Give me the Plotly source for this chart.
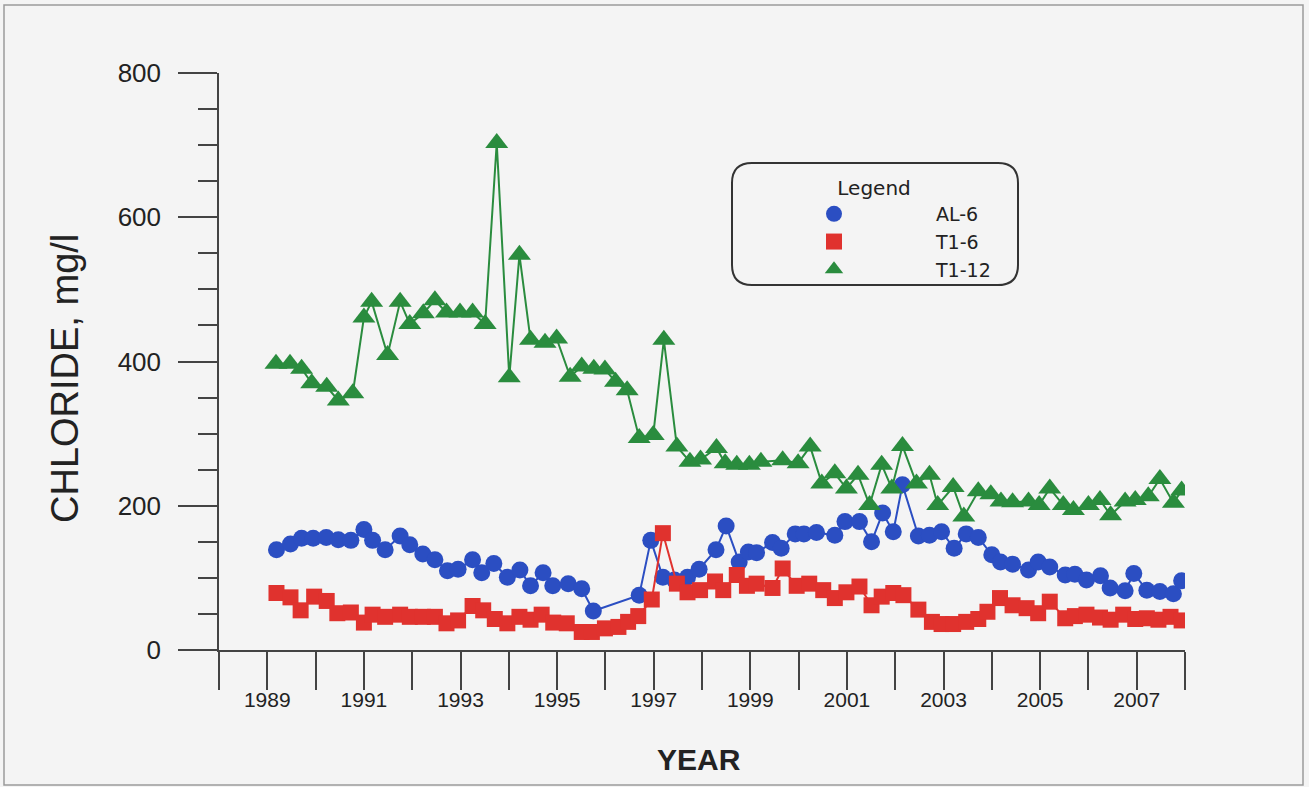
import plotly.graph_objects as go

# ---- data (decimal year, chloride mg/l) ----
al6_year = [1989.19, 1989.48, 1989.71, 1989.95, 1990.22, 1990.47, 1990.73, 1991.00, 1991.18, 1991.44,
            1991.75, 1991.95, 1992.22, 1992.47, 1992.73, 1992.95, 1993.25, 1993.44, 1993.69, 1993.97,
            1994.23, 1994.45, 1994.71, 1994.91, 1995.23, 1995.51, 1995.75, 1996.70, 1996.94, 1997.19,
            1997.43, 1997.70, 1997.94, 1998.29, 1998.50, 1998.77, 1998.96, 1999.13, 1999.46, 1999.64,
            1999.93, 2000.11, 2000.37, 2000.75, 2000.96, 2001.26, 2001.51, 2001.74, 2001.96, 2002.15,
            2002.48, 2002.71, 2002.96, 2003.22, 2003.47, 2003.72, 2004.00, 2004.18, 2004.43, 2004.76,
            2004.96, 2005.20, 2005.52, 2005.72, 2005.96, 2006.25, 2006.45, 2006.76, 2006.94, 2007.21,
            2007.48, 2007.76, 2007.93]
al6_val = [139, 147, 155, 155, 156, 153, 152, 167, 152, 139,
           158, 146, 133, 125, 110, 112, 125, 107, 120, 101,
           111, 89, 107, 89, 92, 85, 54, 76, 152, 101,
           97, 101, 112, 139, 172, 122, 136, 135, 149, 141,
           161, 161, 163, 159, 178, 178, 150, 190, 164, 229,
           158, 159, 164, 141, 161, 156, 132, 122, 119, 111,
           122, 115, 104, 105, 97, 103, 86, 82, 106, 83,
           81, 78, 96]

t16_year = [1989.19, 1989.48, 1989.69, 1989.97, 1990.23, 1990.45, 1990.73, 1991.00, 1991.18, 1991.44,
            1991.75, 1991.95, 1992.22, 1992.47, 1992.71, 1992.95, 1993.25, 1993.47, 1993.71, 1993.97,
            1994.22, 1994.45, 1994.68, 1994.92, 1995.20, 1995.51, 1995.72, 1995.99, 1996.27, 1996.47,
            1996.68, 1996.96, 1997.19, 1997.48, 1997.70, 1997.96, 1998.27, 1998.44, 1998.72, 1998.93,
            1999.13, 1999.46, 1999.67, 1999.96, 2000.22, 2000.51, 2000.75, 2000.99, 2001.26, 2001.51,
            2001.72, 2001.96, 2002.17, 2002.48, 2002.76, 2002.96, 2003.20, 2003.47, 2003.72, 2003.91,
            2004.17, 2004.43, 2004.72, 2004.96, 2005.20, 2005.52, 2005.72, 2005.96, 2006.24, 2006.46,
            2006.72, 2006.97, 2007.21, 2007.45, 2007.70, 2007.93]
t16_val = [79, 73, 55, 74, 68, 51, 52, 38, 49, 46,
           49, 46, 46, 46, 37, 41, 61, 55, 43, 37,
           46, 42, 49, 38, 37, 25, 25, 30, 32, 39,
           47, 70, 162, 92, 80, 83, 95, 83, 104, 89,
           92, 86, 113, 89, 92, 83, 72, 80, 88, 62,
           74, 79, 76, 56, 39, 36, 36, 39, 43, 53,
           72, 62, 58, 51, 67, 44, 47, 49, 45, 42,
           49, 43, 44, 42, 46, 41]

t112_year = [1989.18, 1989.47, 1989.71, 1989.92, 1990.23, 1990.47, 1990.77, 1991.00, 1991.16, 1991.49,
             1991.75, 1991.95, 1992.23, 1992.47, 1992.71, 1992.99, 1993.25, 1993.51, 1993.75, 1994.01,
             1994.22, 1994.45, 1994.75, 1994.99, 1995.27, 1995.51, 1995.76, 1995.99, 1996.21, 1996.45,
             1996.70, 1996.99, 1997.21, 1997.48, 1997.75, 1997.97, 1998.30, 1998.48, 1998.72, 1998.98,
             1999.22, 1999.67, 1999.99, 2000.24, 2000.48, 2000.75, 2000.99, 2001.23, 2001.47, 2001.72,
             2001.93, 2002.15, 2002.44, 2002.71, 2002.88, 2003.20, 2003.42, 2003.72, 2003.98, 2004.19,
             2004.43, 2004.76, 2004.98, 2005.20, 2005.48, 2005.69, 2006.00, 2006.24, 2006.46, 2006.76,
             2006.97, 2007.24, 2007.48, 2007.76, 2007.93]
t112_val = [397, 397, 390, 370, 365, 346, 356, 461, 483, 409,
            483, 452, 467, 485, 468, 468, 468, 452, 703, 378,
            548, 430, 426, 432, 379, 393, 390, 389, 372, 360,
            294, 298, 430, 282, 261, 264, 280, 259, 257, 257,
            261, 263, 259, 282, 231, 245, 224, 243, 201, 257,
            224, 283, 231, 243, 201, 226, 185, 220, 216, 206,
            205, 206, 201, 224, 201, 194, 201, 208, 187, 206,
            208, 213, 237, 204, 221]

series_names = ["AL-6", "T1-6", "T1-12"]
year_ticks = list(range(1988, 2009))
year_labels = [str(y) if y % 2 == 1 else "" for y in year_ticks]
y_ticks = [0, 200, 400, 600, 800]

# ---- styling ----
BLUE = "#2b4ec2"
RED = "#e0322e"
GREEN = "#2a8c3e"
AXIS = "#444444"
TEXT = "#222222"
BG = "#f4f4f4"

# plot area in pixels (for converting pixel positions of decorations to paper coords)
L, R, T, B = 219, 1185, 73, 650
W, H = R - L, B - T


def px(x):
    return (x - L) / W


def py(y):
    return (B - y) / H


fig = go.Figure()
styles = [
    (al6_year, al6_val, BLUE, "circle", 17),
    (t16_year, t16_val, RED, "square", 16),
    (t112_year, t112_val, GREEN, "triangle-up", 20),
]
for name, (xs, ys, col, sym, sz) in zip(series_names, styles):
    fig.add_trace(go.Scatter(x=xs, y=ys, name=name, mode="lines+markers", showlegend=False,
                             legendgroup=name,
                             line=dict(color=col, width=2),
                             marker=dict(symbol=sym, size=sz, color=col)))
# legend entries show markers only (as in the reference)
for name, (xs, ys, col, sym, sz) in zip(series_names, styles):
    fig.add_trace(go.Scatter(x=[None], y=[None], name=name, mode="markers", legendgroup=name,
                             marker=dict(symbol=sym, size=sz + 4, color=col)))

# rounded legend frame
r = 20
x0, x1, y0, y1 = px(732), px(1018), py(285), py(163)
rx, ry = r / W, r / H
path = (f"M {x0+rx},{y1} L {x1-rx},{y1} Q {x1},{y1} {x1},{y1-ry} "
        f"L {x1},{y0+ry} Q {x1},{y0} {x1-rx},{y0} "
        f"L {x0+rx},{y0} Q {x0},{y0} {x0},{y0+ry} "
        f"L {x0},{y1-ry} Q {x0},{y1} {x0+rx},{y1} Z")

shapes = [
    dict(type="path", xref="paper", yref="paper", path=path,
         line=dict(color="#333333", width=2), fillcolor="rgba(0,0,0,0)", layer="below"),
    dict(type="rect", xref="paper", yref="paper", x0=px(4), x1=px(1303), y0=py(785), y1=py(5),
         line=dict(color="#9a9a9a", width=1.5), fillcolor="rgba(0,0,0,0)", layer="below"),
]

annotations = [
    dict(text="CHLORIDE, mg/l", xref="paper", yref="paper", x=px(65), y=py(379),
         xanchor="center", yanchor="middle",
         textangle=-90, showarrow=False, font=dict(family="Liberation Sans, Arial", size=38, color=TEXT)),
    dict(text="<b>YEAR</b>", xref="paper", yref="paper", x=px(699), y=py(759),
         xanchor="center", yanchor="middle",
         showarrow=False, font=dict(family="Liberation Sans, Arial", size=30, color=TEXT)),
]

fig.update_layout(
    width=1309, height=787,
    margin=dict(l=L, r=1309 - R, t=T, b=787 - B),
    paper_bgcolor=BG, plot_bgcolor=BG,
    showlegend=True,
    legend=dict(
        x=px(732), y=py(169), xanchor="left", yanchor="top",
        bgcolor="rgba(0,0,0,0)", borderwidth=0,
        title=dict(text="&nbsp;&nbsp;&nbsp;Legend", side="top center",
                   font=dict(family="DejaVu Sans, Liberation Sans", size=20, color=TEXT)),
        font=dict(family="DejaVu Sans, Liberation Sans", size=19, color=TEXT),
        itemwidth=194, tracegroupgap=0, itemclick=False, itemdoubleclick=False,
    ),
    shapes=shapes,
    annotations=annotations,
    xaxis=dict(
        range=[1988, 2008], tickmode="array", tickvals=year_ticks, ticktext=year_labels,
        ticks="outside", ticklen=38, tickwidth=1.5, tickcolor=AXIS,
        showline=True, linecolor=AXIS, linewidth=1.5,
        showgrid=False, zeroline=False, ticklabelstandoff=-8,
        tickfont=dict(family="Liberation Sans, Arial", size=21, color=TEXT),
    ),
    yaxis=dict(
        range=[0, 800], tickmode="array", tickvals=y_ticks,
        ticks="outside", ticklen=39, tickwidth=1.5, tickcolor=AXIS,
        minor=dict(dtick=50, ticks="outside", ticklen=19, tickwidth=1.5, tickcolor=AXIS, showgrid=False),
        showline=True, linecolor=AXIS, linewidth=1.5,
        showgrid=False, zeroline=False, ticklabelstandoff=12,
        tickfont=dict(family="Liberation Sans, Arial", size=26, color=TEXT),
    ),
)

fig.write_html("out.html", config={"displayModeBar": False},
               post_script="document.body.style.margin='0';")
